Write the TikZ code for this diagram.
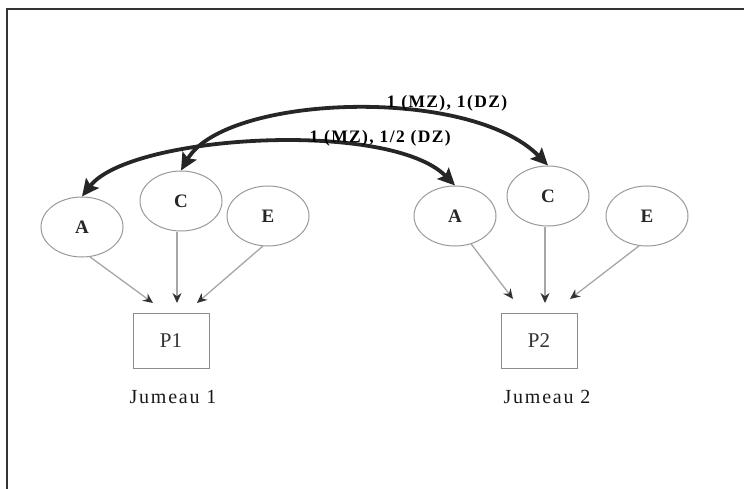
\documentclass[tikz,border=0pt]{standalone}
\usepackage{fontspec}
\setmainfont{Liberation Serif}
\usetikzlibrary{shapes.geometric, arrows.meta, positioning}

\begin{document}
\begin{tikzpicture}[
        x=1pt, y=-1pt,
        factor/.style={
            ellipse,
            draw=black!40,
            line width=1pt,
            fill=white,
            minimum width=82pt,
            minimum height=60pt,
            inner sep=0pt,
            text=black!85,
            font=\fontsize{19}{22}\selectfont\bfseries
        },
        pheno/.style={
            rectangle,
            draw=black!45,
            line width=1pt,
            minimum width=76pt,
            minimum height=55pt,
            text=black!80,
            font=\fontsize{21}{24}\selectfont
        },
        twin/.style={
            text=black!90,
            font=\fontsize{20}{24}\selectfont\addfontfeatures{LetterSpace=9}
        },
        corr/.style={
            draw=black!85,
            line width=3.8pt,
            {Stealth[length=17pt,width=16pt,inset=3pt]}-{Stealth[length=17pt,width=16pt,inset=3pt]},
            font=\fontsize{17.5}{20}\selectfont\bfseries\addfontfeatures{LetterSpace=8}
        },
        load/.style={
            draw=black!35,
            line width=1.3pt,
            -{Stealth[length=10pt,width=9pt,color=black!80]}
        }
    ]
    \useasboundingbox (0,0) rectangle (744,489);
    % frame
    \draw[black!80, line width=2pt] (6.5,489) -- (6.5,9.5) -- (744,9.5);

    % Twin 1
    \node[factor] (A1) at (82,227) {A};
    \node[factor] (C1) at (181,201) {C};
    \node[factor] (E1) at (268,216) {E};
    \node[pheno] (P1) at (171,341) {P1};
    \node[twin, below=18pt of P1, xshift=2pt] (J1) {Jumeau 1};

    % Twin 2
    \node[factor] (A2) at (455,216) {A};
    \node[factor] (C2) at (548,196) {C};
    \node[factor] (E2) at (647,216) {E};
    \node[pheno] (P2) at (539,341) {P2};
    \node[twin, below=18pt of P2, xshift=8pt] (J2) {Jumeau 2};

    % Paths to phenotypes
    \draw[load] (A1.-75) -- ([xshift=-18pt,yshift=10pt]P1.north);
    \draw[load] ([xshift=-4pt]C1.south) -- ([xshift=6pt,yshift=10pt]P1.north);
    \draw[load] (E1.-100) -- ([xshift=26pt,yshift=10pt]P1.north);
    \draw[load] (A2.-60) -- ([xshift=-26pt,yshift=14pt]P2.north);
    \draw[load] ([xshift=-3pt]C2.south) -- ([xshift=6pt,yshift=10pt]P2.north);
    \draw[load] (E2.-105) -- ([xshift=31pt,yshift=14pt]P2.north);

    % Correlations between twins
    \draw[corr] (C1.north) .. controls +(44,-76) and +(-78,-80) .. node[pos=0.71, above=1pt] {1 (MZ), 1(DZ)} (C2.north);
    \draw[corr] (A1.north) .. controls +(48,-62) and +(-65,-66) .. node[pos=0.76, above=0pt] {1 (MZ), 1/2 (DZ)} (A2.north);
\end{tikzpicture}
\end{document}
